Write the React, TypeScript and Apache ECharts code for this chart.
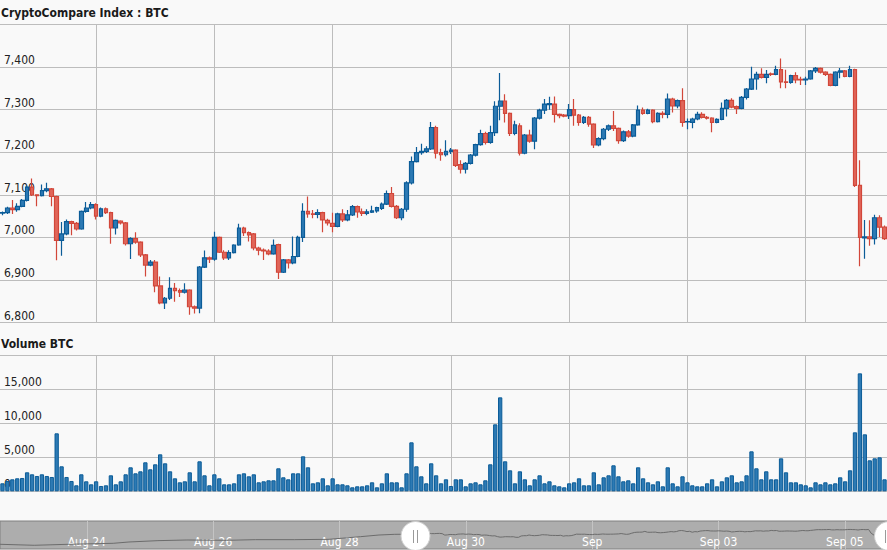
import React, { useEffect, useRef } from "react";
import * as echarts from "echarts";

// ---- data (hourly candles, Aug 29 05:00 -> Sep 05 16:00, 2018) ----
const candleOpen = [
  7057, 7058, 7069, 7065, 7073, 7087, 7118, 7100, 7098, 7110, 7114, 7096, 6993, 7008, 7037, 7033, 7020, 7061, 7069, 7077,
  7050, 7067, 7058, 7022, 7038, 7034, 6985, 6997, 6989, 6959, 6935, 6942, 6886, 6846, 6857, 6880, 6875, 6871, 6876, 6837,
  6834, 6930, 6952, 6949, 7000, 6965, 6952, 6964, 6982, 7022, 7011, 7008, 6975, 6970, 6968, 6961, 6983, 6918, 6947, 6940,
  6955, 7000, 7061, 7055, 7054, 7058, 7040, 7033, 7026, 7055, 7041, 7053, 7072, 7060, 7056, 7059, 7062, 7068, 7078, 7103,
  7073, 7046, 7066, 7128, 7178, 7199, 7202, 7208, 7258, 7199, 7194, 7202, 7205, 7171, 7160, 7174, 7193, 7218, 7244, 7223,
  7246, 7308, 7320, 7291, 7244, 7262, 7198, 7240, 7226, 7280, 7299, 7312, 7313, 7289, 7287, 7286, 7300, 7287, 7270, 7282,
  7266, 7217, 7232, 7254, 7262, 7256, 7227, 7248, 7238, 7264, 7299, 7291, 7299, 7272, 7291, 7289, 7325, 7309, 7321, 7271,
  7270, 7278, 7289, 7282, 7280, 7270, 7277, 7303, 7322, 7307, 7303, 7329, 7348, 7372, 7383, 7376, 7384, 7383, 7394, 7365,
  7364, 7380, 7371, 7370, 7372, 7391, 7397, 7388, 7383, 7357, 7388, 7391, 7378, 7394, 7122, 6999, 7001, 6997, 7046, 7024,
];
const candleClose = [
  7058, 7069, 7065, 7073, 7087, 7118, 7100, 7098, 7110, 7114, 7096, 6993, 7008, 7037, 7033, 7020, 7061, 7069, 7077, 7050,
  7067, 7058, 7022, 7040, 7034, 6985, 6997, 6989, 6959, 6935, 6942, 6886, 6846, 6857, 6880, 6875, 6871, 6876, 6837, 6834,
  6930, 6952, 6949, 7000, 6965, 6952, 6964, 6982, 7022, 7011, 7006, 6975, 6970, 6968, 6961, 6981, 6918, 6947, 6940, 6955,
  7000, 7061, 7055, 7054, 7058, 7041, 7034, 7026, 7055, 7041, 7053, 7072, 7060, 7056, 7060, 7062, 7070, 7078, 7103, 7073,
  7046, 7066, 7128, 7178, 7199, 7202, 7208, 7258, 7198, 7194, 7202, 7205, 7169, 7160, 7174, 7193, 7218, 7244, 7223, 7246,
  7308, 7320, 7291, 7244, 7264, 7198, 7240, 7226, 7280, 7299, 7313, 7314, 7289, 7286, 7285, 7300, 7287, 7270, 7282, 7266,
  7217, 7232, 7254, 7262, 7256, 7227, 7248, 7238, 7264, 7299, 7291, 7299, 7272, 7291, 7289, 7325, 7309, 7321, 7270, 7272,
  7278, 7289, 7282, 7280, 7270, 7277, 7303, 7322, 7306, 7303, 7329, 7348, 7372, 7383, 7376, 7383, 7383, 7394, 7365, 7364,
  7380, 7370, 7370, 7372, 7391, 7397, 7388, 7383, 7357, 7388, 7391, 7378, 7394, 7122, 7000, 7001, 6997, 7046, 7024, 6997,
];
const candleLow = [
  7052, 7055, 7055, 7060, 7071, 7084, 7097, 7073, 7096, 7106, 7073, 6946, 6957, 7005, 7005, 7016, 7018, 7058, 7066, 7042,
  7047, 7055, 6985, 7007, 7030, 6981, 6949, 6985, 6954, 6908, 6932, 6871, 6843, 6832, 6853, 6849, 6860, 6868, 6818, 6821,
  6822, 6928, 6940, 6945, 6963, 6947, 6947, 6962, 6980, 7003, 6990, 6970, 6958, 6947, 6958, 6959, 6902, 6916, 6927, 6937,
  6953, 6989, 7046, 7045, 7045, 7012, 7028, 7012, 7024, 7036, 7038, 7050, 7046, 7050, 7052, 7057, 7058, 7064, 7076, 7070,
  7043, 7040, 7060, 7124, 7176, 7194, 7198, 7205, 7185, 7180, 7190, 7196, 7165, 7150, 7150, 7171, 7190, 7215, 7218, 7220,
  7238, 7275, 7270, 7238, 7240, 7192, 7195, 7222, 7207, 7277, 7290, 7300, 7270, 7280, 7282, 7278, 7262, 7262, 7266, 7260,
  7210, 7214, 7228, 7250, 7250, 7220, 7224, 7234, 7235, 7262, 7288, 7289, 7268, 7270, 7280, 7280, 7293, 7303, 7260, 7254,
  7256, 7275, 7279, 7277, 7247, 7268, 7275, 7284, 7303, 7290, 7301, 7324, 7346, 7347, 7373, 7362, 7379, 7381, 7350, 7350,
  7361, 7362, 7358, 7358, 7370, 7386, 7385, 7379, 7355, 7355, 7374, 7376, 7376, 7118, 6932, 6950, 6980, 6983, 7001, 6994,
];
const candleHigh = [
  7061, 7072, 7088, 7080, 7090, 7122, 7138, 7101, 7124, 7128, 7116, 7098, 7036, 7042, 7039, 7036, 7063, 7083, 7083, 7080,
  7070, 7070, 7060, 7042, 7040, 7036, 7000, 7012, 6991, 6961, 6947, 6947, 6908, 6860, 6906, 6893, 6880, 6892, 6878, 6840,
  6933, 6969, 6955, 7013, 7002, 6970, 6970, 6984, 7032, 7025, 7014, 7010, 6978, 6974, 6972, 6995, 6985, 6949, 6949, 7002,
  7004, 7080, 7096, 7064, 7066, 7060, 7044, 7058, 7058, 7066, 7064, 7076, 7075, 7068, 7066, 7074, 7072, 7082, 7110, 7118,
  7076, 7069, 7132, 7190, 7212, 7220, 7214, 7271, 7262, 7208, 7228, 7210, 7207, 7181, 7177, 7196, 7220, 7253, 7248, 7262,
  7320, 7386, 7336, 7293, 7274, 7268, 7243, 7253, 7283, 7302, 7325, 7330, 7331, 7291, 7290, 7313, 7325, 7290, 7285, 7285,
  7268, 7235, 7257, 7265, 7297, 7258, 7251, 7252, 7266, 7310, 7305, 7302, 7301, 7294, 7296, 7338, 7328, 7324, 7350, 7279,
  7281, 7295, 7294, 7285, 7282, 7280, 7317, 7325, 7327, 7310, 7332, 7351, 7401, 7389, 7397, 7393, 7387, 7403, 7420, 7394,
  7382, 7388, 7377, 7377, 7393, 7400, 7399, 7390, 7385, 7390, 7398, 7393, 7403, 7396, 7181, 7041, 7040, 7053, 7052, 7028,
];
const volumeBTC = [
  1176, 1519, 1764, 1911, 1960, 2793, 2499, 2254, 2499, 2254, 2107, 8526, 3675, 2107, 1519, 882, 2499, 1470, 1029, 1470,
  784, 882, 2352, 1029, 1470, 2499, 3528, 2646, 2940, 4263, 3234, 3969, 5439, 4116, 2940, 1911, 1323, 1470, 2793, 1470,
  4410, 2352, 882, 2499, 1911, 1029, 1029, 1176, 2499, 2646, 2205, 2499, 1323, 1470, 1617, 1617, 3381, 2058, 1764, 2646,
  2646, 5145, 3528, 1176, 1323, 1911, 882, 1911, 1029, 1029, 882, 588, 735, 735, 882, 1323, 588, 1176, 2646, 1323,
  1323, 588, 2646, 7203, 3675, 2205, 1176, 4116, 2352, 1176, 1764, 784, 1764, 1764, 735, 1176, 1323, 1029, 1617, 3969,
  9849, 13818, 4410, 3087, 1176, 2940, 1764, 882, 1764, 2352, 1176, 1470, 882, 735, 588, 1176, 1323, 1911, 882, 882,
  2793, 1029, 2058, 2352, 3822, 2205, 1470, 1617, 1176, 3528, 1911, 1323, 1029, 1470, 735, 3528, 1176, 735, 2205, 1323,
  882, 735, 735, 1176, 1764, 735, 1470, 2058, 2352, 1323, 1470, 2352, 5880, 3381, 1764, 2940, 1764, 1764, 4851, 2793,
  1323, 1323, 1029, 882, 588, 1323, 1029, 1323, 1029, 1176, 2058, 1470, 3087, 8673, 17346, 8379, 4557, 4851, 4998, 1764,
];
// navigator: earlier history (hour offset from Aug 22 15:00)
const navEarlyHour = [0, 13, 26, 43, 49, 60, 71, 86, 97, 112, 125, 137, 144, 150];
const navEarlyPrice = [6336, 6265, 6336, 6407, 6501, 6596, 6643, 6620, 6667, 6667, 6691, 6881, 7000, 7048];

const HOUR = 3600000;
const MAIN_START = Date.UTC(2018, 7, 29, 5);
const NAV_START = Date.UTC(2018, 7, 22, 15);
const MONTHS = ["Jan", "Feb", "Mar", "Apr", "May", "Jun", "Jul", "Aug", "Sep", "Oct", "Nov", "Dec"];
const NAV_LABEL_DAYS = ["2018-08-24", "2018-08-26", "2018-08-28", "2018-08-30", "2018-09-01", "2018-09-03", "2018-09-05"];

const FONT = "'DejaVu Sans Condensed', 'DejaVu Sans', Verdana, sans-serif";
const GRID_COLOR = "#bdbdbd";
const UP_FILL = "#2d7ab4";
const UP_LINE = "#0b5c98";
const DOWN_FILL = "#e0665a";
const DOWN_LINE = "#d2473a";

const pad = (n: number) => (n < 10 ? "0" + n : "" + n);
const catLabel = (t: number) => {
  const d = new Date(t);
  return `${d.getUTCFullYear()}-${pad(d.getUTCMonth() + 1)}-${pad(d.getUTCDate())} ${pad(d.getUTCHours())}:00`;
};

export default function App() {
  const ref = useRef<HTMLDivElement>(null);

  useEffect(() => {
    if (!ref.current) return;
    const chart = echarts.init(ref.current, undefined, { renderer: "svg" });

    const mainTimes = candleOpen.map((_, i) => MAIN_START + i * HOUR);
    const mainCats = mainTimes.map(catLabel);
    const ohlc = candleOpen.map((o, i) => [o, candleClose[i], candleLow[i], candleHigh[i]]);

    const navOffset = Math.round((MAIN_START - NAV_START) / HOUR);
    const navLen = navOffset + candleOpen.length;
    const navTimes: number[] = [];
    for (let i = 0; i < navLen; i++) navTimes.push(NAV_START + i * HOUR);
    const navCats = navTimes.map(catLabel);
    const navValues: (number | null)[] = navTimes.map(() => null);
    navEarlyHour.forEach((h, k) => (navValues[h] = navEarlyPrice[k]));
    candleClose.forEach((c, i) => (navValues[navOffset + i] = c));

    const isMidnight = (index: number) => new Date(mainTimes[index]).getUTCHours() === 0;
    const navTick = (index: number) => {
      const t = navTimes[index];
      if (t === undefined) return false;
      const d = new Date(t);
      if (d.getUTCHours() !== 0) return false;
      return NAV_LABEL_DAYS.indexOf(catLabel(t).slice(0, 10)) >= 0;
    };
    const navFormatter = (_v: string, index: number) => {
      const d = new Date(navTimes[index]);
      if (d.getUTCDate() === 1) return MONTHS[d.getUTCMonth()];
      return `${MONTHS[d.getUTCMonth()]} ${pad(d.getUTCDate())}`;
    };
    const thousands = (v: number) => v.toLocaleString("en-US");

    const hiddenAxisParts = {
      axisLine: { show: false },
      axisTick: { show: false },
    };

    const option: any = {
      animation: false,
      backgroundColor: "#f9f9f9",
      textStyle: { fontFamily: FONT },
      title: [
        {
          text: "CryptoCompare Index : BTC",
          left: 1,
          top: 5,
          padding: 0,
          textStyle: { fontFamily: FONT, fontSize: 12, fontWeight: "bold", color: "#1a1a1a", lineHeight: 16 },
        },
        {
          text: "Volume BTC",
          left: 1,
          top: 336,
          padding: 0,
          textStyle: { fontFamily: FONT, fontSize: 12, fontWeight: "bold", color: "#1a1a1a", lineHeight: 16 },
        },
      ],
      grid: [
        { left: 0, right: 0, top: 24.5, height: 298 },
        { left: 0, right: 0, top: 355.3, height: 136 },
        {
          left: 0,
          right: 0,
          top: 521,
          height: 28,
          show: true,
          backgroundColor: "#adadad",
          borderColor: "#808080",
          borderWidth: 1,
        },
      ],
      xAxis: [
        {
          type: "category",
          gridIndex: 0,
          data: mainCats,
          boundaryGap: true,
          ...hiddenAxisParts,
          axisLabel: { show: false },
          splitLine: { show: true, interval: isMidnight, alignWithLabel: true, lineStyle: { color: GRID_COLOR, width: 1 } },
        },
        {
          type: "category",
          gridIndex: 1,
          data: mainCats,
          boundaryGap: true,
          ...hiddenAxisParts,
          axisLabel: { show: false },
          splitLine: { show: true, interval: isMidnight, alignWithLabel: true, lineStyle: { color: GRID_COLOR, width: 1 } },
        },
        {
          type: "category",
          gridIndex: 2,
          data: navCats,
          boundaryGap: false,
          position: "top",
          ...hiddenAxisParts,
          axisLabel: {
            inside: true,
            interval: navTick,
            formatter: navFormatter,
            color: "#ffffff",
            fontFamily: FONT,
            fontSize: 12,
            margin: 15,
            verticalAlign: "top",
          },
          splitLine: { show: true, interval: navTick, lineStyle: { color: "#c4c4c4", width: 1 } },
        },
      ],
      yAxis: [
        {
          type: "value",
          gridIndex: 0,
          min: 6800,
          max: 7500,
          interval: 100,
          ...hiddenAxisParts,
          axisLabel: {
            inside: true,
            showMaxLabel: false,
            margin: 4,
            verticalAlign: "bottom",
            padding: [0, 0, 1, 0],
            formatter: thousands,
            color: "#222",
            fontFamily: FONT,
            fontSize: 12,
          },
          splitLine: { show: true, lineStyle: { color: GRID_COLOR, width: 1 } },
        },
        {
          type: "value",
          gridIndex: 1,
          min: 0,
          max: 20000,
          interval: 5000,
          ...hiddenAxisParts,
          axisLabel: {
            inside: true,
            showMaxLabel: false,
            margin: 4,
            verticalAlign: "bottom",
            padding: [0, 0, 1, 0],
            formatter: thousands,
            color: "#222",
            fontFamily: FONT,
            fontSize: 12,
          },
          splitLine: { show: true, lineStyle: { color: GRID_COLOR, width: 1 } },
        },
        {
          type: "value",
          gridIndex: 2,
          min: 6000,
          max: 8000,
          show: false,
          splitLine: { show: false },
        },
      ],
      series: [
        {
          type: "candlestick",
          xAxisIndex: 0,
          yAxisIndex: 0,
          data: ohlc,
          barWidth: 4.2,
          itemStyle: {
            color: UP_FILL,
            color0: DOWN_FILL,
            borderColor: UP_LINE,
            borderColor0: DOWN_LINE,
            borderWidth: 1.2,
          },
          z: 3,
        },
        {
          type: "bar",
          xAxisIndex: 1,
          yAxisIndex: 1,
          data: volumeBTC,
          barWidth: 4.3,
          itemStyle: { color: UP_FILL, borderColor: UP_LINE, borderWidth: 1 },
          z: 3,
        },
        {
          type: "line",
          xAxisIndex: 2,
          yAxisIndex: 2,
          data: navValues,
          connectNulls: true,
          symbol: "none",
          lineStyle: { color: "#6c6c6c", width: 1 },
          z: 3,
        },
      ],
      graphic: [
        {
          type: "circle",
          shape: { cx: 415.5, cy: 536, r: 14.5 },
          style: { fill: "#ffffff", stroke: "#cfcfcf", lineWidth: 1 },
          z: 100,
        },
        { type: "line", shape: { x1: 413.5, y1: 530, x2: 413.5, y2: 543 }, style: { stroke: "#9a9a9a", lineWidth: 1 }, z: 101 },
        { type: "line", shape: { x1: 417.5, y1: 530, x2: 417.5, y2: 543 }, style: { stroke: "#9a9a9a", lineWidth: 1 }, z: 101 },
        {
          type: "circle",
          shape: { cx: 889, cy: 536, r: 14.5 },
          style: { fill: "#ffffff", stroke: "#cfcfcf", lineWidth: 1 },
          z: 100,
        },
        { type: "line", shape: { x1: 885.5, y1: 530, x2: 885.5, y2: 543 }, style: { stroke: "#9a9a9a", lineWidth: 1 }, z: 101 },
      ],
    };

    chart.setOption(option);
    return () => chart.dispose();
  }, []);

  return (
    <div
      ref={ref}
      style={{ position: "fixed", left: 0, top: 0, width: 887, height: 550, background: "#f9f9f9" }}
    />
  );
}
